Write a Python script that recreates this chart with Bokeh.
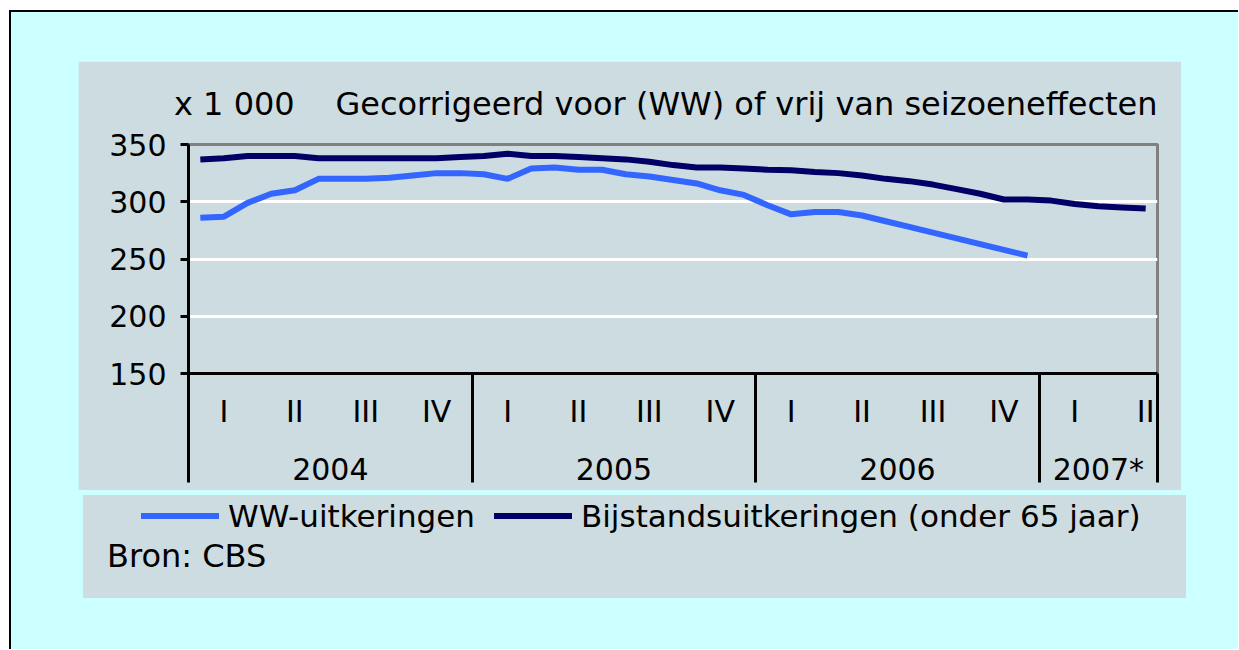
from bokeh.plotting import figure
from bokeh.models import FixedTicker, LinearAxis, Range1d, ColumnDataSource, Grid, Div
from bokeh.layouts import column
from bokeh.embed import file_html
from bokeh.resources import INLINE

# ---- data (x 1 000), monthly, Jan 2004 = month 0 ----
ww_values = [286, 287, 299, 307, 310, 320, 320, 320, 321, 323, 325, 325,
             324, 320, 329, 330, 328, 328, 324, 322, 319, 316, 310, 306,
             297, 289, 291, 291, 288, 283, 278, 273, 268, 263, 258, 253]
bijstand_values = [337, 338, 340, 340, 340, 338, 338, 338, 338, 338, 338, 339,
                   340, 342, 340, 340, 339, 338, 337, 335, 332, 330, 330, 329,
                   328, 327.5, 326, 325, 323, 320, 318, 315, 311, 307, 302, 302,
                   301, 298, 296, 295, 294]
quarter_labels = ["I", "II", "III", "IV"] * 3 + ["I", "II"]
year_labels = ["2004", "2005", "2006", "2007*"]
year_months = [12, 12, 12, 5]
y_ticks = [150, 200, 250, 300, 350]
series_names = ["WW-uitkeringen", "Bijstandsuitkeringen (onder 65 jaar)"]
series_colors = ["#3366FF", "#000066"]
title_text = "x 1 000\u00a0\u00a0\u00a0\u00a0Gecorrigeerd voor (WW) of vrij van seizoeneffecten"
source_text = "Bron: CBS"

FONT = "DejaVu Sans"
FS = "30px"
PANEL = "#CDDCE0"
SEP = 109

n_months = sum(year_months)
src_ww = ColumnDataSource(dict(x=[i + 0.5 for i in range(len(ww_values))], y=ww_values))
src_bij = ColumnDataSource(dict(x=[i + 0.5 for i in range(len(bijstand_values))], y=bijstand_values))

p = figure(width=1103, height=429, output_backend="svg", toolbar_location=None,
           title=title_text,
           x_range=Range1d(0, n_months), y_range=Range1d(150, 350),
           x_axis_type=None, y_axis_type=None,
           min_border_left=110, min_border_right=24, min_border_top=82, min_border_bottom=117)
p.background_fill_color = PANEL
p.border_fill_color = PANEL
p.outline_line_color = "#808080"
p.outline_line_width = 3
p.title.align = "right"
p.title.text_font = FONT
p.title.text_font_size = "32px"
p.title.text_font_style = "normal"
p.title.text_color = "black"
p.title.standoff = 43

# y axis
yax = LinearAxis(ticker=FixedTicker(ticks=y_ticks))
yax.axis_line_width = 3
yax.axis_line_color = "black"
yax.major_tick_line_width = 3
yax.major_tick_out = 8
yax.major_tick_in = 0
yax.minor_tick_line_color = None
yax.major_label_standoff = 14
yax.major_label_text_font = FONT
yax.major_label_text_font_size = FS
yax.major_label_text_color = "black"
p.add_layout(yax, "left")

grid = Grid(dimension=1, ticker=FixedTicker(ticks=y_ticks[1:-1]))
grid.grid_line_color = "white"
grid.grid_line_width = 3
p.add_layout(grid)

# quarter axis with year separators as minor ticks
q_ticks = []
q_over = {}
start = 0
qi = 0
for months in year_months:
    for q in range((months + 2) // 3):
        c = start + q * 3 + 1.5
        q_ticks.append(c)
        q_over[c] = quarter_labels[qi]
        qi += 1
    start += months
bounds = [0]
for months in year_months:
    bounds.append(bounds[-1] + months)

qax = LinearAxis(ticker=FixedTicker(ticks=q_ticks, minor_ticks=bounds))
qax.major_label_overrides = q_over
qax.axis_line_width = 3
qax.axis_line_color = "black"
qax.major_tick_line_color = None
qax.major_tick_out = 0
qax.major_tick_in = 0
qax.minor_tick_out = SEP
qax.minor_tick_in = 0
qax.minor_tick_line_width = 3
qax.minor_tick_line_color = "black"
qax.major_label_standoff = 20 - SEP
qax.major_label_text_font = FONT
qax.major_label_text_font_size = FS
qax.major_label_text_color = "black"
p.add_layout(qax, "below")

# year axis
y_centers = [(bounds[i] + bounds[i + 1]) / 2 for i in range(len(year_labels))]
yrax = LinearAxis(ticker=FixedTicker(ticks=y_centers))
yrax.major_label_overrides = {c: t for c, t in zip(y_centers, year_labels)}
yrax.axis_line_color = None
yrax.major_tick_line_color = None
yrax.minor_tick_line_color = None
yrax.major_tick_out = 0
yrax.major_tick_in = 0
yrax.major_label_standoff = 20
yrax.major_label_text_font = FONT
yrax.major_label_text_font_size = FS
yrax.major_label_text_color = "black"
p.add_layout(yrax, "below")

p.line("x", "y", source=src_ww, line_color=series_colors[0], line_width=6)
p.line("x", "y", source=src_bij, line_color=series_colors[1], line_width=6)

# ---- lower strip: legend and source ----
def swatch(color, left_gap):
    return (f'<span style="display:inline-block;width:78px;height:6px;background:{color};'
            f'margin-left:{left_gap}px;margin-right:9px;"></span>')

strip_html = (
    f'<div style="position:relative;margin-left:67px;width:1103px;height:103px;background:{PANEL};'
    f'font-family:\'{FONT}\';color:#000;">'
    f'<div style="position:absolute;left:58px;top:3px;height:36px;display:flex;align-items:center;'
    f'font-size:31px;white-space:nowrap;">'
    f'{swatch(series_colors[0], 0)}<span>{series_names[0]}</span>'
    f'{swatch(series_colors[1], 19)}<span>{series_names[1]}</span>'
    f'</div>'
    f'<div style="position:absolute;left:24px;top:42px;height:38px;line-height:38px;font-size:32px;'
    f'white-space:nowrap;">{source_text}</div>'
    f'</div>'
)
strip = Div(text=strip_html, width=1170, height=103)

p.margin = (49, 0, 0, 67)
layout = column(p, strip, width=1229, height=639, margin=(10, 0, 0, 9), spacing=0,
                styles={"background-color": "#CCFFFF",
                        "border-top": "2px solid black",
                        "border-left": "2px solid black"})

open("out.html", "w").write(file_html(layout, INLINE))
